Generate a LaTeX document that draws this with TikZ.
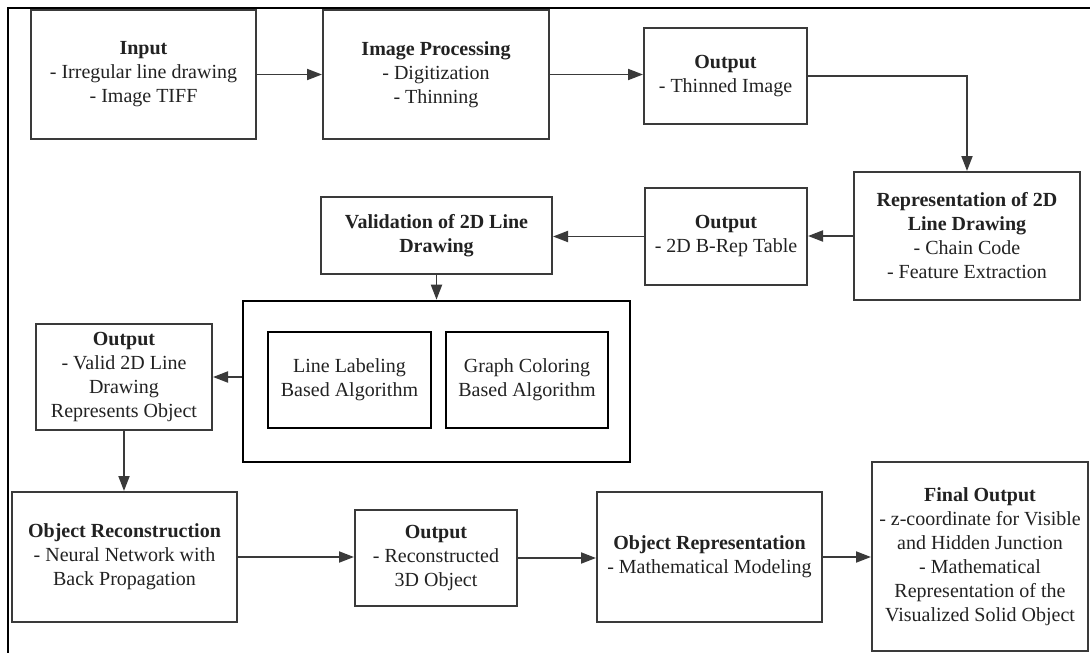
\documentclass[tikz,border=0pt]{standalone}
\usepackage{fontspec}
\setmainfont{Liberation Serif}
\usetikzlibrary{arrows.meta}
\definecolor{boxgray}{HTML}{3A3A3A}
\definecolor{txtgray}{HTML}{222222}
\begin{document}
\begin{tikzpicture}[x=1pt,y=-1pt,
  box/.style={draw=boxgray, line width=2pt, align=center, inner sep=0pt,
    font=\fontsize{20}{24}\selectfont, text=txtgray},
  heavybox/.style={box, draw=black, line width=2.6pt},
  conn/.style={draw=boxgray, line width=1.9pt, -{Triangle[length=15pt,width=11pt]}},
  frameline/.style={draw=black}
]
\useasboundingbox (0,0) rectangle (1090,653);
\fill[white] (0,0) rectangle (1090,653);
% frame
\coordinate (fa) at (7,8);
\coordinate (fb) at (1090,8);
\coordinate (fc) at (8,653);
\draw[frameline, line width=1.4pt] (fa) -- (fb);
\draw[frameline, line width=2.8pt] (8,7) -- (fc);

% row 1
\node[box, minimum width=225pt, minimum height=129pt] (in) at (143.5,74.5)
  {\textbf{Input}\\- Irregular line drawing\\- Image TIFF};
\node[box, minimum width=226pt, minimum height=129pt] (ip) at (436,74.5)
  {\textbf{Image Processing}\\- Digitization\\- Thinning};
\node[box, minimum width=163pt, minimum height=96pt] (ot) at (725.5,76)
  {\textbf{Output}\\- Thinned Image};

% row 2
\node[box, minimum width=226pt, minimum height=128pt] (rep) at (967,236)
  {\textbf{Representation of 2D}\\\textbf{Line Drawing}\\- Chain Code\\- Feature Extraction};
\node[box, minimum width=162pt, minimum height=97pt] (brep) at (726,236.5)
  {\textbf{Output}\\- 2D B-Rep Table};
\node[box, minimum width=231pt, minimum height=77pt] (val) at (436.5,235.5)
  {\textbf{Validation of 2D Line}\\\textbf{Drawing}};

% row 3
\node[heavybox, minimum width=387pt, minimum height=161pt] (big) at (436.5,381.5) {};
\node[heavybox, minimum width=163pt, minimum height=96pt] (ll) at (349.5,380)
  {Line Labeling\\Based Algorithm};
\node[heavybox, minimum width=162pt, minimum height=96pt] (gc) at (527,380)
  {Graph Coloring\\Based Algorithm};
\node[box, minimum width=176pt, minimum height=106pt] (ov) at (124,377)
  {\textbf{Output}\\- Valid 2D Line\\Drawing\\Represents Object};

% row 4
\node[box, minimum width=225pt, minimum height=130pt] (orc) at (124.5,557)
  {\textbf{Object Reconstruction}\\- Neural Network with\\Back Propagation};
\node[box, minimum width=162pt, minimum height=96pt] (orec) at (436,558)
  {\textbf{Output}\\- Reconstructed\\3D Object};
\node[box, minimum width=225pt, minimum height=130pt] (orep) at (709.5,557)
  {\textbf{Object Representation}\\- Mathematical Modeling};
\node[box, minimum width=216pt, minimum height=189pt] (fo) at (980,556.5)
  {\textbf{Final Output}\\- z-coordinate for Visible\\and Hidden Junction\\- Mathematical\\Representation of the\\Visualized Solid Object};

% connectors
\draw[conn] (in.east) -- (ip.west);
\draw[conn] (ip.east) -- (ip.east -| ot.west);
\draw[conn] (ot.east) -| (rep.north);
\draw[conn] (rep.west) -- (rep.west -| brep.east);
\draw[conn] (brep.west) -- (brep.west -| val.east);
\draw[conn] (val.south) -- (big.north);
\draw[conn] (big.west |- ov.east) -- (ov.east);
\draw[conn] (ov.south) -- (ov.south |- orc.north);
\draw[conn] (orc.east) -- (orc.east -| orec.west);
\draw[conn] (orec.east) -- (orec.east -| orep.west);
\draw[conn] (orep.east) -- (orep.east -| fo.west);
\end{tikzpicture}
\end{document}
